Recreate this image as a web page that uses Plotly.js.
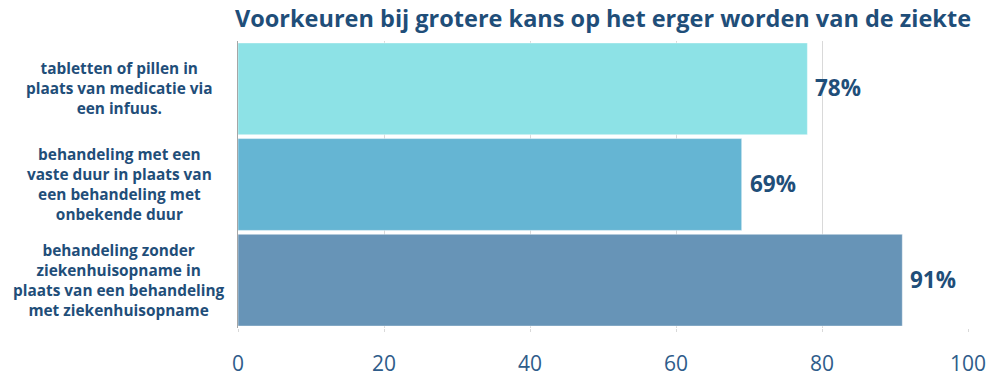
<!DOCTYPE html>
<html><head><meta charset="utf-8">
<script src="https://cdn.plot.ly/plotly-3.0.1.min.js"></script>
<style>html,body{margin:0;padding:0;background:#fff}#chart{width:992px;height:384px}</style>
</head><body><div id="chart"></div>
<script>
const categories = [
  "tabletten of pillen in<br>plaats van medicatie via<br>een infuus.",
  "behandeling met een<br>vaste duur in plaats van<br>een behandeling met<br>onbekende duur",
  "behandeling zonder<br>ziekenhuisopname in<br>plaats van een behandeling<br>met ziekenhuisopname"
];
const values = [78, 69, 91];
const barColors = ["#8DE2E6", "#65B5D3", "#6794B7"];
const tickVals = [0, 20, 40, 60, 80, 100];
const titleText = "Voorkeuren bij grotere kans op het erger worden van de ziekte";

const textColor = "#1F4E79";
const ids = categories.map((c, i) => "c" + i);

const trace = {
  type: "bar",
  orientation: "h",
  x: values,
  y: ids,
  marker: {color: barColors, line: {color: "rgba(255,255,255,0.45)", width: 1}},
  hoverinfo: "none"
};

const annotations = [];
categories.forEach((c, i) => {
  annotations.push({
    xref: "paper", yref: "y", x: -0.163, y: ids[i],
    xanchor: "center", yanchor: "middle", align: "center",
    text: c, showarrow: false,
    font: {family: "Open Sans", size: 15.4, color: textColor, weight: 700}
  });
  annotations.push({
    xref: "x", yref: "y", x: values[i], y: ids[i],
    xanchor: "left", yanchor: "middle", xshift: 6, yshift: 1,
    text: "<b>" + values[i] + "%</b>", showarrow: false,
    font: {family: "Open Sans", size: 22.5, color: textColor}
  });
});

const layout = {
  width: 992, height: 384,
  margin: {l: 238, r: 24, t: 41, b: 56},
  paper_bgcolor: "#fff", plot_bgcolor: "#fff",
  showlegend: false,
  bargap: 0.04,
  title: {
    text: "<b>" + titleText + "</b>",
    font: {family: "Open Sans", size: 23.5, color: textColor},
    x: 0.5, xanchor: "center", xref: "paper", y: 0.952, yanchor: "middle"
  },
  xaxis: {
    range: [0, 100], tickvals: tickVals, ticktext: tickVals.map(String),
    showgrid: true, gridcolor: "#D9D9D9", gridwidth: 1,
    zeroline: false, showline: false,
    ticks: "outside", ticklen: 3, tickcolor: "#D9D9D9",
    ticklabelstandoff: 14,
    tickfont: {family: "Open Sans", size: 21, color: "#2E5C8A"},
    fixedrange: true
  },
  yaxis: {
    autorange: "reversed", showticklabels: false, showgrid: false,
    showline: true, linecolor: "#A6A6A6", linewidth: 1,
    zeroline: false, ticks: "", fixedrange: true
  },
  annotations: annotations
};

Plotly.newPlot("chart", [trace], layout, {displayModeBar: false, staticPlot: true});
</script>
</body></html>
